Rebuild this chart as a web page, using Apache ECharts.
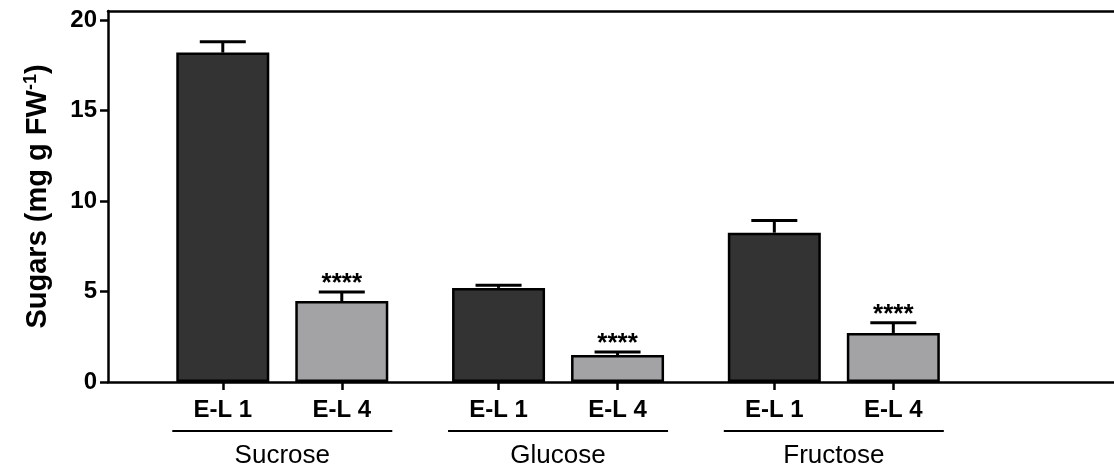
<!DOCTYPE html>
<html>
<head>
<meta charset="utf-8">
<script src="https://cdn.jsdelivr.net/npm/echarts@6/dist/echarts.min.js"></script>
<style>
  body { margin: 0; background: #fff; }
  #chart { width: 1114px; height: 469px; }
</style>
</head>
<body>
<div id="chart"></div>
<script>
// 数据
var sugars = ['Sucrose', 'Glucose', 'Fructose'];
var lines = ['E-L 1', 'E-L 4'];
var el1Mean = [18.2, 5.2, 8.25];
var el1Sem = [0.6, 0.15, 0.68];
var el4Mean = [4.47, 1.49, 2.71];
var el4Sem = [0.5, 0.17, 0.57];
var el4Sig = ['****', '****', '****'];
var yTicks = [0, 5, 10, 15, 20];

// 布局
var FONT = '"Liberation Sans", Arial, Helvetica, sans-serif';
var GRID_L = 108, GRID_R = 0, GRID_T = 11, GRID_B = 87;
var X_MIN = -0.632, X_MAX = 3.016;
var BAR_W = 93, BAR_GAP = 26;
var OFF = (BAR_W + BAR_GAP) / 2;   // px from group centre to bar centre
var CAP = 46;
var unit = (X_MAX - X_MIN) / (1114 - GRID_L - GRID_R);

var barCentres = [];
sugars.forEach(function (s, i) {
    barCentres.push(i - OFF * unit, i + OFF * unit);
});

function errorBars(side, withSig) {
    return function (params, api) {
        var i = api.value(0), mean = api.value(1), sem = api.value(2);
        var base = api.coord([i, mean]);
        var top = api.coord([i, mean + sem]);
        var x = base[0] + side * OFF;
        var style = { stroke: '#000', lineWidth: 3 };
        var children = [
            { type: 'line', shape: { x1: x, y1: base[1], x2: x, y2: top[1] }, style: style },
            { type: 'line', shape: { x1: x - CAP / 2, y1: top[1], x2: x + CAP / 2, y2: top[1] }, style: style }
        ];
        if (withSig) {
            children.push({
                type: 'text',
                style: {
                    text: el4Sig[params.dataIndex], x: x, y: top[1] + 5,
                    align: 'center', verticalAlign: 'bottom',
                    font: 'bold 26px ' + FONT, fill: '#000'
                }
            });
        }
        return { type: 'group', children: children };
    };
}

var myChart = echarts.init(document.getElementById('chart'));
myChart.setOption({
    animation: false,
    grid: { left: GRID_L, right: GRID_R, top: GRID_T, bottom: GRID_B },
    xAxis: [
        {
            type: 'value', min: X_MIN, max: X_MAX, position: 'bottom',
            splitLine: { show: false },
            axisLine: { onZero: false, lineStyle: { color: '#000', width: 2.5 } },
            axisTick: { customValues: barCentres, length: 8, lineStyle: { color: '#000', width: 2.5 } },
            axisLabel: {
                customValues: barCentres, margin: 16,
                fontFamily: FONT, fontSize: 24, fontWeight: 'bold', color: '#000',
                formatter: function (v) { return Math.round(v) > v ? lines[0] : lines[1]; }
            }
        },
        {
            type: 'value', min: X_MIN, max: X_MAX, position: 'bottom',
            splitLine: { show: false },
            axisLine: { show: false, onZero: false },
            axisTick: { show: false },
            axisLabel: {
                customValues: [0, 1, 2], margin: 48,
                formatter: function (v) { return '{bar| }\n{name|' + sugars[v] + '}'; },
                rich: {
                    bar: { width: BAR_W * 2 + BAR_GAP + 8, height: 2, lineHeight: 2, fontSize: 1, backgroundColor: '#000' },
                    name: { fontFamily: FONT, fontSize: 26, lineHeight: 47, color: '#000' }
                }
            }
        },
        {
            type: 'value', min: X_MIN, max: X_MAX, position: 'top',
            splitLine: { show: false },
            axisLine: { onZero: false, lineStyle: { color: '#000', width: 2.5 } },
            axisTick: { show: false },
            axisLabel: { show: false }
        }
    ],
    yAxis: {
        type: 'value', min: 0, max: 20.5,
        splitLine: { show: false },
        axisLine: { show: true, onZero: false, lineStyle: { color: '#000', width: 2.5 } },
        axisTick: { show: true, customValues: yTicks, length: 8, lineStyle: { color: '#000', width: 2.5 } },
        axisLabel: {
            customValues: yTicks, margin: 11,
            fontFamily: FONT, fontSize: 24, fontWeight: 'bold', color: '#000'
        },
        name: '{t|Sugars (mg g FW}{s|-1}{t|)}',
        nameLocation: 'middle', nameRotate: 90, nameGap: 55,
        nameTextStyle: {
            rich: {
                t: { fontFamily: FONT, fontSize: 29, fontWeight: 'bold', color: '#000', lineHeight: 31 },
                s: { fontFamily: FONT, fontSize: 18, fontWeight: 'bold', color: '#000', padding: [0, 0, 12, 0] }
            }
        }
    },
    series: [
        {
            name: lines[0], type: 'bar', xAxisIndex: 0,
            barWidth: BAR_W, barGap: (BAR_GAP / BAR_W * 100) + '%',
            itemStyle: { color: '#333333', borderColor: '#000', borderWidth: 2.5 },
            data: el1Mean.map(function (v, i) { return [i, v]; })
        },
        {
            name: lines[1], type: 'bar', xAxisIndex: 0,
            barWidth: BAR_W, barGap: (BAR_GAP / BAR_W * 100) + '%',
            itemStyle: { color: '#a3a3a6', borderColor: '#000', borderWidth: 2.5 },
            data: el4Mean.map(function (v, i) { return [i, v]; })
        },
        {
            type: 'custom', xAxisIndex: 0, z: 3,
            renderItem: errorBars(-1, false),
            data: el1Mean.map(function (v, i) { return [i, v, el1Sem[i]]; })
        },
        {
            type: 'custom', xAxisIndex: 0, z: 3,
            renderItem: errorBars(1, true),
            data: el4Mean.map(function (v, i) { return [i, v, el4Sem[i]]; })
        }
    ]
});
</script>
</body>
</html>
